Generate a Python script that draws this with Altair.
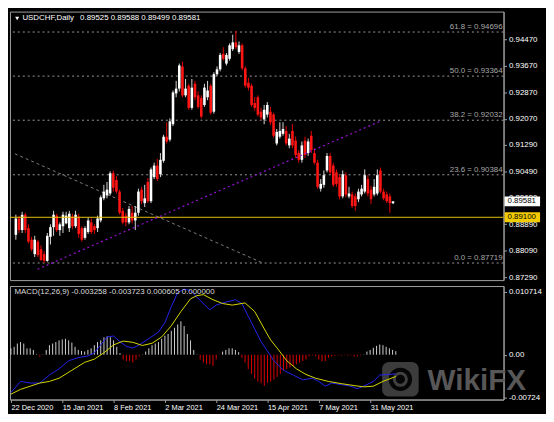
import altair as alt
import pandas as pd

# ---------------- data ----------------
bar_open = [
    0.88569, 0.89063, 0.88714, 0.89179, 0.88772, 0.88423, 0.87987, 0.88365, 0.88133, 0.87987,
    0.87784, 0.88511, 0.88801, 0.89150, 0.88714, 0.88830, 0.88917, 0.88772, 0.89121, 0.88830,
    0.89121, 0.88772, 0.88481, 0.88656, 0.88946, 0.88830, 0.88772, 0.89005, 0.89673, 0.89760,
    0.89819, 0.90429, 0.90226, 0.89877, 0.89295, 0.89150, 0.88946, 0.89237, 0.89005, 0.89237,
    0.89935, 0.89528, 0.90167, 0.89586, 0.90313, 0.90662, 0.90400, 0.90807, 0.91534, 0.91447,
    0.91912, 0.92842, 0.92987, 0.93656, 0.92784, 0.93074, 0.92406, 0.93133, 0.92784, 0.92697,
    0.92493, 0.92726, 0.93074, 0.92290, 0.93423, 0.93569, 0.94034, 0.93743, 0.93888, 0.94179,
    0.94383, 0.94092, 0.94295, 0.93598, 0.93162, 0.93074, 0.92551, 0.92726, 0.92290, 0.92057,
    0.92202, 0.92290, 0.92202, 0.91330, 0.91534, 0.91621, 0.91708, 0.91272, 0.91708, 0.91418,
    0.91040, 0.90836, 0.91418, 0.91040, 0.91563, 0.91040, 0.90749, 0.89964, 0.90080, 0.90516,
    0.90953, 0.90662, 0.90458, 0.90313, 0.89731, 0.90371, 0.89731, 0.89790, 0.89731, 0.89644,
    0.89790, 0.89877, 0.90255, 0.89935, 0.89790, 0.89819, 0.90516, 0.89877, 0.89790, 0.89731,
    0.89525,
]
bar_high = [
    0.89179, 0.89150, 0.89266, 0.89237, 0.88888, 0.88511, 0.88540, 0.88423, 0.88249, 0.88075,
    0.88627, 0.88888, 0.89295, 0.89208, 0.88946, 0.89266, 0.89266, 0.89295, 0.89208, 0.89295,
    0.89208, 0.88830, 0.88830, 0.89092, 0.89063, 0.88888, 0.89150, 0.89760, 0.90080, 0.90167,
    0.90487, 0.90516, 0.90342, 0.89935, 0.89382, 0.89237, 0.89440, 0.89440, 0.89440, 0.89964,
    0.90022, 0.90080, 0.90284, 0.90604, 0.90749, 0.90865, 0.91040, 0.91592, 0.91970, 0.92086,
    0.92929, 0.93220, 0.93743, 0.93801, 0.93278, 0.93133, 0.93278, 0.93220, 0.92900, 0.92784,
    0.93133, 0.93220, 0.93133, 0.93481, 0.93656, 0.94063, 0.94237, 0.94063, 0.94353, 0.94615,
    0.94731, 0.94412, 0.94353, 0.93656, 0.93307, 0.93133, 0.92726, 0.92784, 0.92406, 0.92493,
    0.92580, 0.92435, 0.92260, 0.91766, 0.91970, 0.91970, 0.91854, 0.91621, 0.91912, 0.91534,
    0.91127, 0.91389, 0.91534, 0.91476, 0.91708, 0.91185, 0.90836, 0.90255, 0.90516, 0.91040,
    0.91040, 0.90749, 0.90546, 0.90400, 0.90516, 0.90458, 0.90022, 0.89877, 0.89819, 0.89964,
    0.90080, 0.90546, 0.90371, 0.90051, 0.90255, 0.90546, 0.90604, 0.89964, 0.89877, 0.89819,
    0.89588,
]
bar_low = [
    0.88423, 0.88627, 0.88627, 0.88627, 0.88307, 0.88075, 0.87900, 0.87900, 0.87784, 0.87719,
    0.87755, 0.88278, 0.88540, 0.88656, 0.88540, 0.88627, 0.88888, 0.88656, 0.88743, 0.88772,
    0.88481, 0.88365, 0.88423, 0.88598, 0.88598, 0.88598, 0.88656, 0.88946, 0.89615, 0.89673,
    0.89760, 0.89877, 0.89819, 0.89179, 0.88888, 0.88830, 0.88888, 0.88917, 0.88714, 0.89150,
    0.89499, 0.89411, 0.89528, 0.89528, 0.90255, 0.90197, 0.90313, 0.90749, 0.91330, 0.91389,
    0.91854, 0.92726, 0.92900, 0.92726, 0.92726, 0.92348, 0.92348, 0.92638, 0.92377, 0.92086,
    0.92435, 0.92638, 0.92202, 0.92231, 0.93365, 0.93510, 0.93830, 0.93685, 0.93830, 0.94121,
    0.94179, 0.94034, 0.93540, 0.93016, 0.92929, 0.92435, 0.92319, 0.92144, 0.92028, 0.91912,
    0.92115, 0.91883, 0.91505, 0.91272, 0.91476, 0.91563, 0.91272, 0.91185, 0.91185, 0.90894,
    0.90749, 0.90749, 0.90894, 0.90953, 0.91040, 0.90691, 0.89964, 0.89877, 0.89993, 0.90458,
    0.90400, 0.90022, 0.90022, 0.89644, 0.89673, 0.89702, 0.89673, 0.89382, 0.89295, 0.89557,
    0.89731, 0.89819, 0.89731, 0.89499, 0.89731, 0.89760, 0.89819, 0.89615, 0.89528, 0.89237,
    0.89499,
]
bar_close = [
    0.89063, 0.88714, 0.89179, 0.88714, 0.88365, 0.88133, 0.88423, 0.87958, 0.87813, 0.87784,
    0.88540, 0.88801, 0.89179, 0.88714, 0.88888, 0.89179, 0.89150, 0.89208, 0.88830, 0.89179,
    0.88598, 0.88423, 0.88772, 0.89005, 0.88656, 0.88714, 0.89063, 0.89702, 0.89877, 0.89935,
    0.90429, 0.89993, 0.89877, 0.89237, 0.88946, 0.88946, 0.89353, 0.89005, 0.89237, 0.89877,
    0.89586, 0.89673, 0.89586, 0.90546, 0.90662, 0.90255, 0.90836, 0.91534, 0.91389, 0.91999,
    0.92871, 0.92987, 0.93685, 0.92784, 0.92987, 0.92406, 0.93016, 0.92726, 0.92435, 0.92144,
    0.93016, 0.92929, 0.92260, 0.93423, 0.93569, 0.94005, 0.93888, 0.94005, 0.94295, 0.94383,
    0.94237, 0.94295, 0.93598, 0.93074, 0.93016, 0.92493, 0.92406, 0.92202, 0.92115, 0.92348,
    0.92493, 0.91970, 0.91563, 0.91679, 0.91708, 0.91766, 0.91330, 0.91476, 0.91272, 0.90982,
    0.90836, 0.91272, 0.90982, 0.91389, 0.91127, 0.90749, 0.90022, 0.90109, 0.90371, 0.90953,
    0.90458, 0.90080, 0.90109, 0.89731, 0.90400, 0.89790, 0.89819, 0.89440, 0.89440, 0.89877,
    0.89964, 0.90371, 0.89819, 0.89644, 0.90022, 0.90371, 0.89877, 0.89673, 0.89586, 0.89528,
    0.89581,
]

date_tick_bars = [0, 16, 32, 48, 64, 80, 96, 112]
date_tick_labels = ["22 Dec 2020", "15 Jan 2021", "8 Feb 2021", "2 Mar 2021",
                    "24 Mar 2021", "15 Apr 2021", "7 May 2021", "31 May 2021"]

price_tick_values = [0.94470, 0.93670, 0.92870, 0.92070, 0.91290,
                     0.90490, 0.89690, 0.88890, 0.88090, 0.87290]
price_domain = [0.87203, 0.95313]

fib_levels = [0.94696, 0.93364, 0.92032, 0.90384, 0.87719]
fib_names = ["61.8", "50.0", "38.2", "23.6", "0.0"]
support_price = 0.89100
last_price = 0.89581
header_symbol = "USDCHF,Daily"
header_ohlc = "0.89525 0.89588 0.89499 0.89581"

trend_up_bars = [6.9, 115.9]
trend_up_prices = [0.87530, 0.92000]
trend_down_bars = [-0.3, 78.4]
trend_down_prices = [0.91019, 0.87726]

macd_hist = [
    0.00109, 0.00135, 0.00191, 0.00217, 0.00191, 0.00109, 0.00109, 0.00082, 0.00008, -0.00028,
    0.00005, 0.00082, 0.00163, 0.00191, 0.00217, 0.00245, 0.00261, 0.00272, 0.00245, 0.00207,
    0.00135, 0.00082, 0.00065, 0.00054, 0.00082, 0.00109, 0.00163, 0.00217, 0.00245, 0.00298,
    0.00315, 0.00298, 0.00245, 0.00135, 0.00028, -0.00082, -0.00109, -0.00109, -0.00135, -0.00082,
    -0.00028, 0.00005, 0.00054, 0.00109, 0.00163, 0.00191, 0.00217, 0.00272, 0.00326, 0.00354,
    0.00408, 0.00461, 0.00517, 0.00571, 0.00489, 0.00354, 0.00245, 0.00082, 0.00005, -0.00082,
    -0.00135, -0.00163, -0.00163, -0.00191, -0.00082, -0.00005, 0.00054, 0.00082, 0.00109, 0.00109,
    0.00082, 0.00044, -0.00054, -0.00135, -0.00245, -0.00326, -0.00408, -0.00461, -0.00489, -0.00533,
    -0.00480, -0.00461, -0.00424, -0.00380, -0.00326, -0.00272, -0.00245, -0.00217, -0.00191, -0.00163,
    -0.00135, -0.00109, -0.00082, -0.00028, -0.00011, -0.00028, -0.00082, -0.00109, -0.00109, -0.00054,
    -0.00028, -0.00016, -0.00011, -0.00016, -0.00005, -0.00016, -0.00011, -0.00028, -0.00028, -0.00011,
    0.00005, 0.00054, 0.00082, 0.00119, 0.00152, 0.00174, 0.00163, 0.00135, 0.00109, 0.00082,
    0.000605,
]
macd_main_bars = [0, 3, 6, 9, 12, 15, 18, 21, 24, 26, 28, 30, 32, 34, 36, 38, 40, 43, 46, 48,
                  50, 52, 54, 56, 59, 62, 64, 67, 70, 72, 74, 76, 78, 80, 82, 85, 88, 91, 94,
                  96, 98, 100, 103, 106, 108, 111, 113, 115, 118, 120]
macd_main_vals = [-0.00647, -0.00456, -0.00484, -0.00484, -0.00347, -0.00240, -0.00103, -0.00049,
                  -0.00022, 0.00033, 0.00168, 0.00304, 0.00320, 0.00223, 0.00142, 0.00114, 0.00168,
                  0.00277, 0.00386, 0.00549, 0.00820, 0.01064, 0.01120, 0.01092, 0.00929, 0.00766,
                  0.00848, 0.00900, 0.00940, 0.00875, 0.00657, 0.00440, 0.00223, 0.00060, -0.00103,
                  -0.00266, -0.00347, -0.00429, -0.00402, -0.00456, -0.00538, -0.00484, -0.00510,
                  -0.00538, -0.00582, -0.00510, -0.00456, -0.00347, -0.00337, -0.003258]
macd_signal_bars = [0, 3, 6, 9, 12, 15, 19, 23, 26, 29, 32, 35, 38, 41, 44, 47, 50, 53, 56, 58,
                    60, 63, 66, 69, 73, 76, 79, 81, 83, 86, 89, 92, 95, 99, 103, 107, 110, 113,
                    116, 120]
macd_signal_vals = [-0.00674, -0.00592, -0.00538, -0.00484, -0.00456, -0.00402, -0.00266, -0.00130,
                    -0.00076, 0.00033, 0.00168, 0.00233, 0.00212, 0.00158, 0.00196, 0.00304, 0.00494,
                    0.00738, 0.00956, 0.01010, 0.01027, 0.00940, 0.00875, 0.00848, 0.00885, 0.00738,
                    0.00440, 0.00250, 0.00114, -0.00103, -0.00240, -0.00337, -0.00402, -0.00456,
                    -0.00494, -0.00527, -0.00549, -0.00538, -0.00456, -0.003723]
macd_domain = [-0.00766, 0.01174]
macd_tick_values = [0.010714, 0.0, -0.00724]
macd_tick_labels = ["0.010714", "0.00", "-0.00724"]
macd_header = "MACD(12,26,9) -0.003258 -0.003723 0.000605 0.000000"
watermark_text = "WikiFX"

# ---------------- layout / style ----------------
W, HP, HM = 500, 272, 115
FONT = "Liberation Sans"
GRID = "#a0a0a0"
x_domain = [-0.3, 153.6]

xscale = alt.Scale(domain=x_domain, nice=False, zero=False)
yscale = alt.Scale(domain=price_domain, nice=False, zero=False)
mscale = alt.Scale(domain=macd_domain, nice=False, zero=False)


def label_expr(values, labels):
    parts = [f"abs(datum.value - ({v})) < 1e-9 ? '{lab}' : " for v, lab in zip(values, labels)]
    return "".join(parts) + "''"


axis_style = dict(title=None, labelColor="#ffffff", labelFont=FONT, labelFontSize=8,
                  tickSize=3, tickColor=GRID, domainColor=GRID, grid=False,
                  labelOverlap=False, labelFlush=False)

price_axis = alt.Axis(orient="right", values=price_tick_values, format=".5f",
                      labelPadding=2, **axis_style)
date_axis = alt.Axis(orient="bottom", values=date_tick_bars,
                     labelExpr=label_expr(date_tick_bars, date_tick_labels),
                     labelAlign="left", labelBaseline="top", labelPadding=1,
                     **{**axis_style, "labelFontSize": 7.5})
macd_axis = alt.Axis(orient="right", values=macd_tick_values,
                     labelExpr=label_expr(macd_tick_values, macd_tick_labels),
                     labelPadding=2, **axis_style)


# the same axis object is given to every layer so that the merged axis is kept
def XP(field="i"):
    return alt.X(f"{field}:Q", scale=xscale, axis=None)


def YP(field):
    return alt.Y(f"{field}:Q", scale=yscale, axis=price_axis)


def XM(field="i"):
    return alt.X(f"{field}:Q", scale=xscale, axis=date_axis)


def YM(field):
    return alt.Y(f"{field}:Q", scale=mscale, axis=macd_axis)


# ---------------- price panel ----------------
n = len(bar_close)
cdf = pd.DataFrame({"i": list(range(n)), "o": bar_open, "h": bar_high,
                    "l": bar_low, "c": bar_close})
bull = [c >= o for o, c in zip(bar_open, bar_close)]
cdf["body"] = ["#ffffff" if b else "#ff1414" for b in bull]
cdf["wick"] = ["#d8d8d8" if b else "#e80000" for b in bull]

fdf = pd.DataFrame({"p": fib_levels,
                    "label": [f"{nm} = {p:.5f}" for nm, p in zip(fib_names, fib_levels)]})

fib_rules = alt.Chart(fdf).mark_rule(color="#9a9a9a", strokeDash=[2, 3], strokeWidth=1).encode(
    y=YP("p"))
fib_text = alt.Chart(fdf).mark_text(align="right", baseline="bottom", dy=-1, color="#a8a8a8",
                                    font=FONT, fontSize=8).encode(
    x=alt.value(W - 1), y=YP("p"), text="label:N")

tdown = pd.DataFrame({"i": [trend_down_bars[0]], "i2": [trend_down_bars[1]],
                      "p": [trend_down_prices[0]], "p2": [trend_down_prices[1]]})
tup = pd.DataFrame({"i": [trend_up_bars[0]], "i2": [trend_up_bars[1]],
                    "p": [trend_up_prices[0]], "p2": [trend_up_prices[1]]})

gray_trend = alt.Chart(tdown).mark_rule(color="#7c7c7c", strokeDash=[3, 3], strokeWidth=1).encode(
    x=XP(), x2="i2:Q", y=YP("p"), y2="p2:Q")
purple_trend = alt.Chart(tup).mark_rule(color="#9a10dc", strokeDash=[2, 3], strokeWidth=1.2).encode(
    x=XP(), x2="i2:Q", y=YP("p"), y2="p2:Q")

wicks = alt.Chart(cdf).mark_rule(strokeWidth=1).encode(
    x=XP(), y=YP("l"), y2="h:Q", color=alt.Color("wick:N", scale=None))
bodies = alt.Chart(cdf).mark_bar(width=2.6).encode(
    x=XP(), y=YP("o"), y2="c:Q", color=alt.Color("body:N", scale=None))

sdf = pd.DataFrame({"p": [support_price]})
support = alt.Chart(sdf).mark_rule(color="#e8c400", strokeWidth=1).encode(y=YP("p"))

bdf = pd.DataFrame({"p": [last_price, support_price],
                    "label": [f"{last_price:.5f}", f"{support_price:.5f}"],
                    "fill": ["#ffffff", "#f2cc00"]})
boxes = alt.Chart(bdf).mark_rule(strokeWidth=10, strokeCap="butt").encode(
    x=alt.value(W + 1), x2=alt.value(W + 37), y=YP("p"), color=alt.Color("fill:N", scale=None))
box_text = alt.Chart(bdf).mark_text(align="left", baseline="middle", color="#000000",
                                    font=FONT, fontSize=8).encode(
    x=alt.value(W + 4), y=YP("p"), text="label:N")

one = pd.DataFrame({"a": [header_symbol], "b": [header_ohlc]})
tri = alt.Chart(one).mark_point(shape="triangle-down", filled=True, size=16, color="#ffffff",
                                opacity=1).encode(x=alt.value(7.3), y=alt.value(7))
head1 = alt.Chart(one).mark_text(align="left", baseline="middle", color="#ffffff", font=FONT,
                                 fontSize=8).encode(x=alt.value(12.6), y=alt.value(7), text="a:N")
head2 = alt.Chart(one).mark_text(align="left", baseline="middle", color="#ffffff", font=FONT,
                                 fontSize=8).encode(x=alt.value(71), y=alt.value(7), text="b:N")

price_panel = alt.layer(
    fib_rules, fib_text, gray_trend, wicks, bodies, support, purple_trend,
    boxes, box_text, tri, head1, head2
).properties(width=W, height=HP)

# ---------------- MACD panel ----------------
hdf = pd.DataFrame({"i": list(range(len(macd_hist))), "v": macd_hist,
                    "z": [0.0] * len(macd_hist)})
hdf["col"] = ["#cfcfcf" if v >= 0 else "#dd0000" for v in macd_hist]

mdf = pd.DataFrame({"i": macd_main_bars, "v": macd_main_vals})
sgdf = pd.DataFrame({"i": macd_signal_bars, "v": macd_signal_vals})

wm = pd.DataFrame({"t": [watermark_text], "h": [macd_header]})
logo_box = alt.Chart(wm).mark_rect(cornerRadius=7, color="#474747", opacity=0.85).encode(
    x=alt.value(377), x2=alt.value(414), y=alt.value(77), y2=alt.value(112))
logo_eye = alt.Chart(wm).mark_point(shape="circle", filled=True, size=560, color="#000000",
                                    opacity=0.9).encode(x=alt.value(395.5), y=alt.value(94.5))
logo_core = alt.Chart(wm).mark_point(shape="circle", filled=False, size=150, color="#474747",
                                     strokeWidth=3, opacity=0.9).encode(
    x=alt.value(395.5), y=alt.value(94.5))
logo_text = alt.Chart(wm).mark_text(align="left", baseline="alphabetic", color="#5c5c5c",
                                    font=FONT, fontSize=30, fontWeight="bold",
                                    opacity=0.95).encode(
    x=alt.value(423), y=alt.value(105), text="t:N")

hist = alt.Chart(hdf).mark_rule(strokeWidth=1).encode(
    x=XM(), y=YM("z"), y2="v:Q", color=alt.Color("col:N", scale=None))
main_line = alt.Chart(mdf).mark_line(color="#2424f0", strokeWidth=1).encode(
    x=XM(), y=YM("v"))
signal_line = alt.Chart(sgdf).mark_line(color="#d8d800", strokeWidth=1).encode(
    x=XM(), y=YM("v"))
macd_label = alt.Chart(wm).mark_text(align="left", baseline="middle", color="#dcdcdc",
                                     font=FONT, fontSize=8).encode(
    x=alt.value(4.6), y=alt.value(6.5), text="h:N")

macd_panel = alt.layer(
    logo_box, logo_eye, logo_core, logo_text, hist, main_line, signal_line, macd_label
).properties(width=W, height=HM)

chart = alt.vconcat(price_panel, macd_panel, spacing=3).resolve_scale(
    x="independent", y="independent"
).properties(padding=0, background="#000000").configure_view(
    stroke=GRID, strokeWidth=1, fill="#000000"
)

chart.save("out.html", embed_options={"renderer": "svg", "actions": False})
